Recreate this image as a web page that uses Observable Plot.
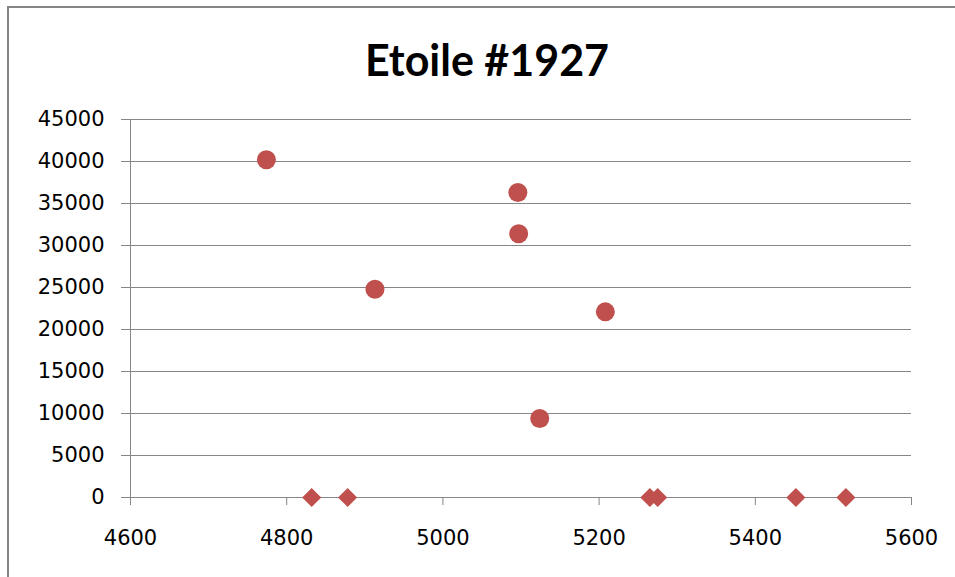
<!DOCTYPE html>
<html><head><meta charset="utf-8">
<script src="https://cdn.jsdelivr.net/npm/d3@7"></script>
<script src="https://cdn.jsdelivr.net/npm/@observablehq/plot@0.6"></script>
<style>
body{margin:0;background:#fff;}
#wrap{position:relative;width:955px;height:577px;overflow:hidden;background:#fff;}
#frame{position:absolute;left:7px;top:6px;width:1000px;height:1000px;border:2px solid #868686;box-sizing:border-box;}
#title{position:absolute;left:0;width:974px;top:38px;text-align:center;font-weight:bold;font-size:43px;font-family:Lato, sans-serif;line-height:1;color:#000;white-space:nowrap;}
#chart{position:absolute;left:0;top:0;}
</style></head><body>
<div id="wrap"><div id="frame"></div><div id="chart"></div><div id="title"></div></div>
<script>
const titleText = "Etoile #1927";
const circleX = [4774, 5096, 5097, 4913, 5208, 5124];
const circleY = [40200, 36300, 31400, 24800, 22100, 9400];
const diamondX = [4832, 4878, 5265, 5275, 5452, 5516];
const diamondY = [0, 0, 0, 0, 0, 0];
const xTicks = [4600, 4800, 5000, 5200, 5400, 5600];
const yTicks = [0, 5000, 10000, 15000, 20000, 25000, 30000, 35000, 40000, 45000];

document.getElementById("title").textContent = titleText;

const circles = circleX.map((x, i) => ({x, y: circleY[i]}));
const diamonds = diamondX.map((x, i) => ({x, y: diamondY[i]}));
const gridColor = "#868686";
const red = "#C0504D";
const fmt = d => String(d);

const chart = Plot.plot({
  width: 955, height: 577,
  marginLeft: 130, marginRight: 44, marginTop: 119, marginBottom: 80,
  style: {fontFamily: "DejaVu Sans", fontSize: "21px", color: "#000", background: "transparent", overflow: "visible"},
  x: {domain: [4600, 5600], label: null},
  y: {domain: [0, 45000], label: null},
  marks: [
    Plot.ruleY(yTicks, {stroke: gridColor, strokeWidth: 1}),
    Plot.ruleX([4600], {stroke: gridColor, strokeWidth: 1}),
    Plot.axisY({ticks: yTicks, tickSize: 9, tickPadding: 17, stroke: gridColor, tickFormat: fmt, label: null, fill: "#000"}),
    Plot.axisX({ticks: xTicks, tickSize: 8, tickPadding: 25, stroke: gridColor, tickFormat: fmt, label: null, fill: "#000"}),
    Plot.dot(diamonds, {x: "x", y: "y", symbol: "diamond2", r: 8.6, fill: red, stroke: "none"}),
    Plot.dot(circles, {x: "x", y: "y", r: 9.5, fill: red, stroke: "none"})
  ]
});
document.getElementById("chart").appendChild(chart);
</script>
</body></html>
